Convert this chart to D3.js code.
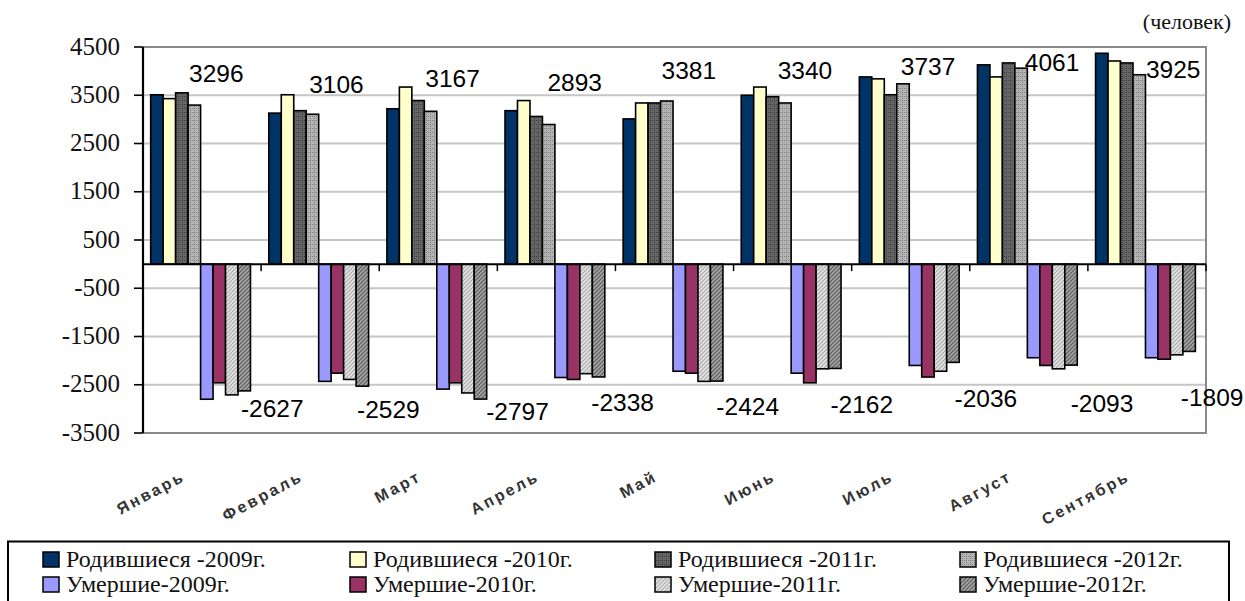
<!DOCTYPE html>
<html><head><meta charset="utf-8">
<script src="https://cdn.jsdelivr.net/npm/d3@7"></script>
<style>html,body{margin:0;padding:0;background:#fff;overflow:hidden}</style>
</head><body><svg id="c" width="1245" height="601"></svg>
<script>
// ---------- data ----------
const months = ["Январь","Февраль","Март","Апрель","Май","Июнь","Июль","Август","Сентябрь"];
const births2009 = [3510,3130,3220,3180,3010,3500,3880,4130,4370];
const births2010 = [3430,3510,3670,3390,3340,3670,3840,3880,4210];
const births2011 = [3550,3180,3390,3060,3340,3470,3510,4170,4170];
const births2012 = [3296,3106,3167,2893,3381,3340,3737,4061,3925];
const deaths2009 = [-2800,-2430,-2590,-2350,-2220,-2260,-2100,-1940,-1940];
const deaths2010 = [-2460,-2260,-2460,-2390,-2260,-2460,-2340,-2100,-1970];
const deaths2011 = [-2710,-2390,-2670,-2270,-2430,-2170,-2220,-2170,-1880];
const deaths2012 = [-2627,-2529,-2797,-2338,-2424,-2162,-2036,-2093,-1809];
const yTickValues = [4500,3500,2500,1500,500,-500,-1500,-2500,-3500];
const yTickLabels = ["4500","3500","2500","1500","500","-500","-1500","-2500","-3500"];
const seriesNames = ["Родившиеся -2009г.","Родившиеся -2010г.","Родившиеся -2011г.","Родившиеся -2012г.",
                     "Умершие-2009г.","Умершие-2010г.","Умершие-2011г.","Умершие-2012г."];
const unitLabel = "(человек)";

// ---------- layout / style ----------
const seriesValues = [births2009,births2010,births2011,births2012,deaths2009,deaths2010,deaths2011,deaths2012];
const seriesFills = ["#003366","#FFFFCC","url(#pB11)","url(#pB12)","#9999FF","#993366","url(#pD11)","url(#pD12)"];
// label nudges: [dx from bar centre, vertical gap]
const birthLabelShift = [[22,23],[24,21],[22,24],[26,34],[22,22],[20,24],[25,9],[31,-3],[34,-3]];
const deathLabelShift = [[28,9],[26,14],[37,3],[24,17],[31,16],[27,27],[33,27],[31,29],[23,37]];
const serif = "Liberation Serif";
const sans = "Liberation Sans";

const plot = {left:143, right:1206, top:47, bottom:433};
const svg = d3.select("#c");
svg.append("rect").attr("width",1245).attr("height",601).attr("fill","#fff");

const defs = svg.append("defs");
function dots(id, bg, fg){
  const p = defs.append("pattern").attr("id",id).attr("width",4).attr("height",4).attr("patternUnits","userSpaceOnUse");
  p.append("rect").attr("width",4).attr("height",4).attr("fill",bg);
  [[0,0],[2,2],[2,0]].forEach(([x,y])=>p.append("rect").attr("x",x).attr("y",y).attr("width",1).attr("height",1).attr("fill",fg));
}
function hatch(id, bg, fg){
  const p = defs.append("pattern").attr("id",id).attr("width",4).attr("height",4).attr("patternUnits","userSpaceOnUse");
  p.append("rect").attr("width",4).attr("height",4).attr("fill",bg);
  p.append("path").attr("d","M-1,1 L1,-1 M0,4 L4,0 M3,5 L5,3").attr("stroke",fg).attr("stroke-width",1.1);
}
dots("pB11","#666666","#3a3a3a");
dots("pB12","#b4b4b4","#7c7c7c");
hatch("pD11","#e4e4e4","#a8a8a8");
hatch("pD12","#a4a4a4","#5a5a5a");

const x = d3.scaleBand().domain(months).range([plot.left, plot.right]).padding(0);
const bw = x.bandwidth();
const xs = d3.scaleBand().domain(d3.range(8)).range([bw*0.065, bw*0.91]).padding(0);
const y = d3.scaleLinear().domain([-3500,4500]).range([plot.bottom, plot.top]);

// grid
svg.append("g").selectAll("line").data(yTickValues).join("line")
  .attr("x1",plot.left).attr("x2",plot.right)
  .attr("y1",d=>y(d)).attr("y2",d=>y(d))
  .attr("stroke","#c6c6c6").attr("stroke-width",2);
// plot border (top/right/bottom)
svg.append("path")
  .attr("d",`M${plot.left},${plot.top}H${plot.right}V${plot.bottom}H${plot.left}`)
  .attr("fill","none").attr("stroke","#8a8a8a").attr("stroke-width",2);

// bars
const barData = [];
seriesValues.forEach((arr,si)=>arr.forEach((v,mi)=>barData.push({si,mi,v})));
svg.append("g").selectAll("rect").data(barData).join("rect")
  .attr("x",d=>x(months[d.mi])+xs(d.si))
  .attr("width",xs.bandwidth())
  .attr("y",d=>Math.min(y(d.v),y(0)))
  .attr("height",d=>Math.abs(y(d.v)-y(0)))
  .attr("fill",d=>seriesFills[d.si])
  .attr("stroke","#000").attr("stroke-width",1.6);

// zero axis with category ticks
svg.append("line").attr("x1",plot.left).attr("x2",plot.right).attr("y1",y(0)).attr("y2",y(0))
  .attr("stroke","#000").attr("stroke-width",2);
const bounds = months.map(m=>x(m)).concat([plot.right]);
svg.append("g").selectAll("line").data(bounds).join("line")
  .attr("x1",d=>d).attr("x2",d=>d).attr("y1",y(0)).attr("y2",y(0)+7)
  .attr("stroke","#000").attr("stroke-width",1.5);

// y axis (drawn from the scale)
svg.append("line").attr("x1",plot.left).attr("x2",plot.left).attr("y1",plot.top).attr("y2",plot.bottom)
  .attr("stroke","#000").attr("stroke-width",2.2);
svg.append("g").selectAll("line").data(yTickValues).join("line")
  .attr("x1",plot.left-9).attr("x2",plot.left).attr("y1",d=>y(d)).attr("y2",d=>y(d))
  .attr("stroke","#000").attr("stroke-width",1.6);
svg.append("g").selectAll("text").data(yTickValues).join("text")
  .attr("x",plot.left-23).attr("y",d=>y(d)).attr("dy","0.3em").attr("text-anchor","end")
  .attr("font-family",serif).attr("font-size",25).attr("fill","#111")
  .text((d,i)=>yTickLabels[i]);

// x category labels
svg.append("g").selectAll("text").data(months).join("text")
  .attr("transform",d=>`translate(${x(d)+bw/2-16},480) rotate(-28)`)
  .attr("text-anchor","end")
  .attr("font-family",sans).attr("font-size",16).attr("letter-spacing",2.5)
  .attr("font-weight","bold")
  .attr("fill","#333").text(d=>d);

// value labels
const lblFont = 24.5;
svg.append("g").selectAll("text").data(births2012).join("text")
  .attr("x",(d,i)=>x(months[i])+xs(3)+xs.bandwidth()/2+birthLabelShift[i][0])
  .attr("y",(d,i)=>y(d)-birthLabelShift[i][1])
  .attr("text-anchor","middle")
  .attr("font-family",sans).attr("font-size",lblFont)
  .attr("fill","#000").text(d=>String(d));
svg.append("g").selectAll("text").data(deaths2012).join("text")
  .attr("x",(d,i)=>x(months[i])+xs(7)+xs.bandwidth()/2+deathLabelShift[i][0])
  .attr("y",(d,i)=>y(d)+deathLabelShift[i][1]+17.5)
  .attr("text-anchor","middle")
  .attr("font-family",sans).attr("font-size",lblFont)
  .attr("fill","#000").text(d=>String(d));

// unit label
svg.append("text").attr("x",1231).attr("y",29).attr("text-anchor","end")
  .attr("font-family",serif).attr("font-size",22)
  .attr("fill","#111").text(unitLabel);

// legend
svg.append("rect").attr("x",8).attr("y",541.5).attr("width",1221).attr("height",70)
  .attr("fill","#fff").attr("stroke","#000").attr("stroke-width",2);
const legCols = [43,350,655,960];
const legX = i=>legCols[i%4], legY = i=>(i<4?552:577);
svg.append("g").selectAll("rect").data(seriesNames).join("rect")
  .attr("x",(d,i)=>legX(i)).attr("y",(d,i)=>legY(i))
  .attr("width",16).attr("height",15).attr("fill",(d,i)=>seriesFills[i])
  .attr("stroke","#000").attr("stroke-width",1.5);
svg.append("g").selectAll("text").data(seriesNames).join("text")
  .attr("x",(d,i)=>legX(i)+23).attr("y",(d,i)=>legY(i)+15)
  .attr("font-family",serif).attr("font-size",24)
  .attr("fill","#111").text(d=>d);
</script></body></html>
